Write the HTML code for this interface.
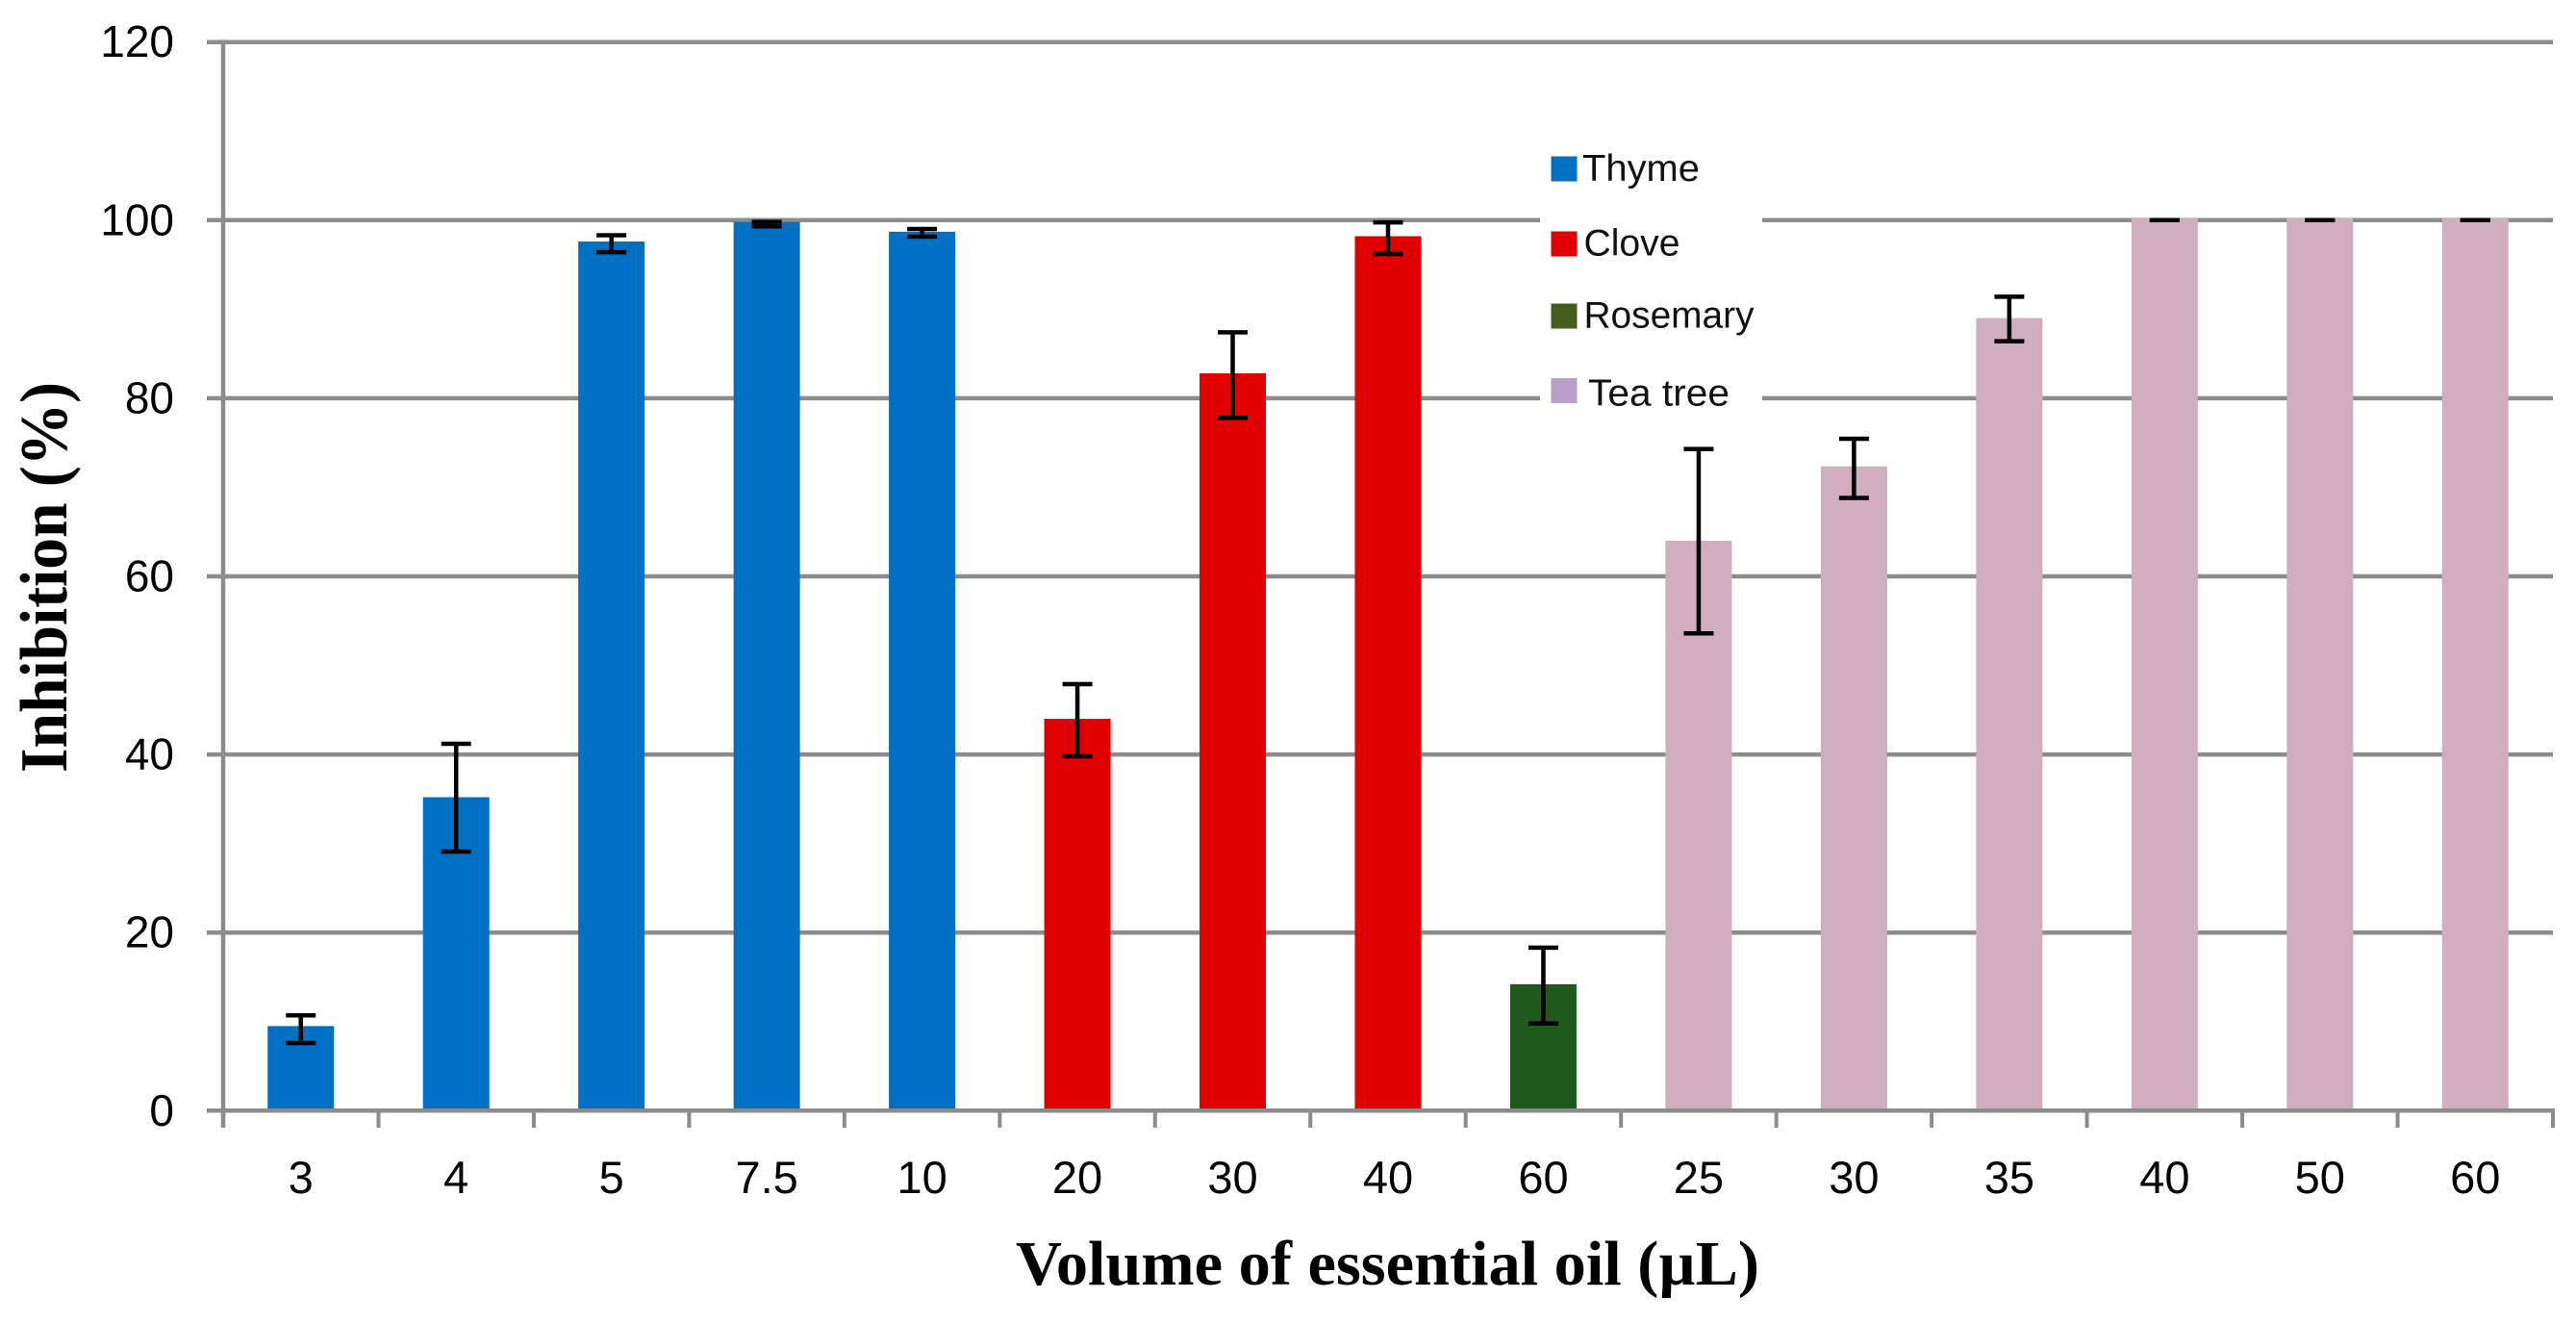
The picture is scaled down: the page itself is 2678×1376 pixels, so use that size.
<!DOCTYPE html>
<html lang="en">
<head>
<meta charset="utf-8">
<title>Inhibition by volume of essential oil</title>
<style>
html,body{margin:0;padding:0;background:#fff;}
body{width:2678px;height:1376px;overflow:hidden;}
svg{display:block;}
.tick{font-family:"Liberation Sans",sans-serif;font-size:46px;fill:#000;}
.tick-x{font-size:47px;}
.legend-text{font-family:"Liberation Sans",sans-serif;font-size:39px;fill:#111;}
.axis-title{font-family:"Liberation Serif",serif;font-weight:bold;font-size:66px;fill:#000;}
.axis-title-y{font-size:70px;}
</style>
</head>
<body>
<svg id="chart" xmlns="http://www.w3.org/2000/svg" width="2678" height="1376" viewBox="0 0 2678 1376">
  <rect x="0" y="0" width="2678" height="1376" fill="#ffffff"/>
  <g id="grid"></g>
  <g id="bars"></g>
  <g id="axes"></g>
  <g id="errors"></g>
  <g id="yticks"></g>
  <g id="xticks"></g>

  <g>
    <rect x="1601" y="110" width="231" height="340" fill="#ffffff"/>
    <g>
      <rect x="1612.5" y="162.5" width="27" height="26" fill="#0070c4"/>
      <text class="legend-text" x="1645" y="188" textLength="122" lengthAdjust="spacingAndGlyphs">Thyme</text>
    </g>
    <g>
      <rect x="1612.5" y="240.5" width="27" height="26" fill="#e00000"/>
      <text class="legend-text" x="1646.5" y="265.5" textLength="100" lengthAdjust="spacingAndGlyphs">Clove</text>
    </g>
    <g>
      <rect x="1612.5" y="315.5" width="27" height="26" fill="#435e1c"/>
      <text class="legend-text" x="1646.5" y="340.5" textLength="177" lengthAdjust="spacingAndGlyphs">Rosemary</text>
    </g>
    <g>
      <rect x="1612.5" y="393" width="27" height="26" fill="#b8a0c8"/>
      <text class="legend-text" x="1651" y="421.5" textLength="147" lengthAdjust="spacingAndGlyphs">Tea tree</text>
    </g>
  </g>

  <text class="axis-title" x="1056" y="1335" textLength="773" lengthAdjust="spacingAndGlyphs">Volume of essential oil (µL)</text>
  <text class="axis-title axis-title-y" transform="translate(69 803) rotate(-90)" x="0" y="0" textLength="406" lengthAdjust="spacingAndGlyphs">Inhibition (%)</text>
</svg>

<script>
// Chart data
const categories = ['3','4','5','7.5','10','20','30','40','60','25','30','35','40','50','60'];
const oilTypes   = ['thyme','thyme','thyme','thyme','thyme','clove','clove','clove','rosemary','tea-tree','tea-tree','tea-tree','tea-tree','tea-tree','tea-tree'];
const values     = [9.5,35.2,97.6,99.8,98.7,44,82.8,98.2,14.2,64,72.35,89,100.2,100.2,100.2];
const errorUpper = [10.7,41.2,98.3,99.8,99,47.9,87.4,99.75,18.3,74.3,75.45,91.4,100,100,100];
const errorLower = [7.6,29.1,96.4,99.3,98.15,39.8,77.8,96.2,9.8,53.6,68.8,86.4,100,100,100];
const yTicks     = [0,20,40,60,80,100,120];

const oilColors = {'thyme':'#0070c4','clove':'#e00000','rosemary':'#1f5a1c','tea-tree':'#d0adbf'};

// Axis functions
const PLOT = {left:232, right:2654, top:43.7, bottom:1154.3};
const Y_MAX = 120;
const BAR_W = 69, CAP_W = 31, LINE = '#8c8c8c';
function xBand(){ return (PLOT.right - PLOT.left) / categories.length; }
function xCenter(i){ return PLOT.left + xBand() * (i + 0.5); }
function xEdge(i){ return PLOT.left + xBand() * i; }
function yScale(v){ return PLOT.bottom - (v / Y_MAX) * (PLOT.bottom - PLOT.top); }

const NS = 'http://www.w3.org/2000/svg';
function make(tag, parent, attrs){
  const el = document.createElementNS(NS, tag);
  for (const k in attrs) el.setAttribute(k, attrs[k]);
  parent.appendChild(el);
  return el;
}

const gridG = document.getElementById('grid');
const barsG = document.getElementById('bars');
const axesG = document.getElementById('axes');
const errG = document.getElementById('errors');
const yTickG = document.getElementById('yticks');
const xTickG = document.getElementById('xticks');

// Gridlines and y tick labels
yTicks.forEach(function(t){
  const y = yScale(t);
  if (t !== 0) {
    const line = make('line', gridG, {x1:215, x2:PLOT.right, y1:y, y2:y, stroke:LINE, 'stroke-width':4.5});
    
    
  }
  const label = make('text', yTickG, {x:181, y:y + 15.5, 'text-anchor':'end', 'class':'tick'});
  label.textContent = String(t);
  
  
});

// Bars
values.forEach(function(v, i){
  const top = yScale(v);
  const bar = make('rect', barsG, {x:xCenter(i) - BAR_W / 2, y:top, width:BAR_W, height:PLOT.bottom - top, fill:oilColors[oilTypes[i]]});
  
  
});

// Axes
const yAxis = make('line', axesG, {x1:PLOT.left, x2:PLOT.left, y1:PLOT.top, y2:1172, stroke:LINE, 'stroke-width':4.5});


const xAxis = make('line', axesG, {x1:215, x2:PLOT.right + 2, y1:PLOT.bottom, y2:PLOT.bottom, stroke:LINE, 'stroke-width':4.5});


for (let i = 1; i <= categories.length; i++) {
  const tick = make('line', axesG, {x1:xEdge(i), x2:xEdge(i), y1:PLOT.bottom, y2:1172, stroke:LINE, 'stroke-width':4});
  
  
}

// Error bars and x tick labels
categories.forEach(function(c, i){
  const cx = xCenter(i);
  const yHi = yScale(errorUpper[i]);
  const yLo = yScale(errorLower[i]);
  const g = make('g', errG, {stroke:'#000000'});
  
  
  make('line', g, {x1:cx, x2:cx, y1:yHi, y2:yLo, 'stroke-width':4.5});
  make('line', g, {x1:cx - CAP_W / 2, x2:cx + CAP_W / 2, y1:yHi, y2:yHi, 'stroke-width':4.5});
  make('line', g, {x1:cx - CAP_W / 2, x2:cx + CAP_W / 2, y1:yLo, y2:yLo, 'stroke-width':4.5});

  const label = make('text', xTickG, {x:cx, y:1240, 'text-anchor':'middle', 'class':'tick tick-x'});
  label.textContent = c;
  
  
});
</script>
</body>
</html>
